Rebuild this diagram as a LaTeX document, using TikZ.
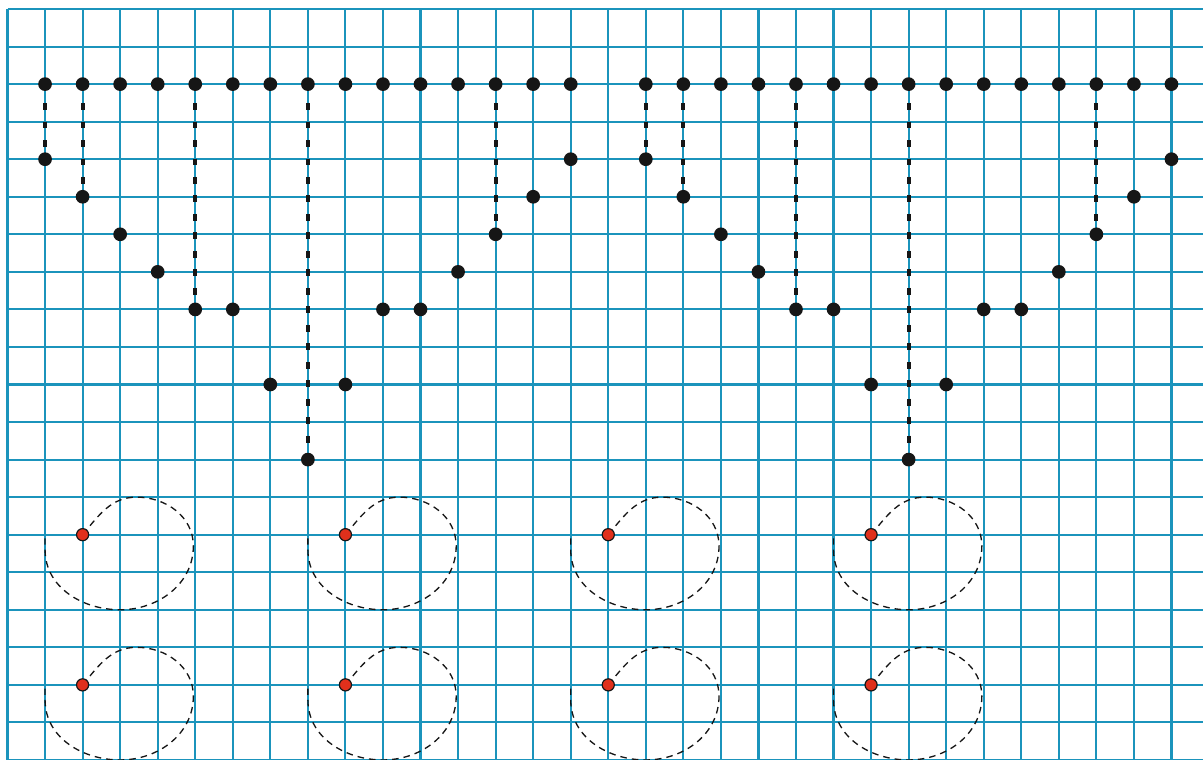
\documentclass[tikz,border=0pt]{standalone}
\usepackage{xcolor}
\definecolor{gridblue}{HTML}{1B94BC}
\definecolor{inkblack}{HTML}{161616}
\definecolor{markred}{HTML}{E0301C}
\usepackage{tikz}
\usetikzlibrary{positioning}
\tikzset{
    x=0.5cm, y=0.5cm,
    gridline/.style={ draw=gridblue, line width=0.8pt, step=0.5cm },
    % Points on the chain
    dot/.style={ circle, fill=inkblack, inner sep=0pt, minimum size=5.2pt },
    dropline/.style={ draw=inkblack, line width=1.5pt, dash pattern=on 2.6pt off 4.4pt, dash phase=2.6pt },
    % Red marker with its dashed loop
    markdot/.style={ circle, draw=inkblack, fill=markred, line width=0.45pt, inner sep=0pt, minimum size=4.6pt },
    pathloop/.style={ draw=inkblack, line width=0.5pt, dash pattern=on 2.5pt off 1.9pt },
    loopmark/.pic={
        \draw[pathloop] (0,0) to[out=50, in=180] (1.44,1) to[out=0, in=90] (2.95,-0.3)
            to[out=-90, in=0] (1,-2) to[out=180, in=-90] (-1,-0.4) -- (-1,-0.1);
        \node[markdot] (-dot) {};
    },
}

\begin{document}
\begin{tikzpicture}
    \useasboundingbox (-0.2,-20) rectangle (31.84,0.24);
    % Grid paper
    \draw[gridline] (0,-20) grid (31.84,0);

    % Two chains of points hanging from the top row
    \foreach \base/\side in {1/left, 17/right} {
        \foreach \k/\depth in {0/4, 1/5, 2/6, 3/7, 4/8, 5/8, 6/10, 7/12, 8/10, 9/8, 10/8, 11/7, 12/6, 13/5, 14/4} {
            \node[dot] (\side-top-\k) at (\base+\k,-2) {};
            \node[dot] (\side-bot-\k) at (\base+\k,-\depth) {};
        }
        \foreach \k in {0, 1, 4, 7, 12}
            \draw[dropline] (\side-top-\k) -- (\side-bot-\k);
    }

    % Loops
    \pic (loop-a) at (2,-14) {loopmark};
    \pic (loop-b) at (9,-14) {loopmark};
    \pic (loop-c) at (16,-14) {loopmark};
    \pic (loop-d) at (23,-14) {loopmark};
    \pic (loop-e) at (2,-18) {loopmark};
    \pic (loop-f) at (9,-18) {loopmark};
    \pic (loop-g) at (16,-18) {loopmark};
    \pic (loop-h) at (23,-18) {loopmark};
\end{tikzpicture}
\end{document}
